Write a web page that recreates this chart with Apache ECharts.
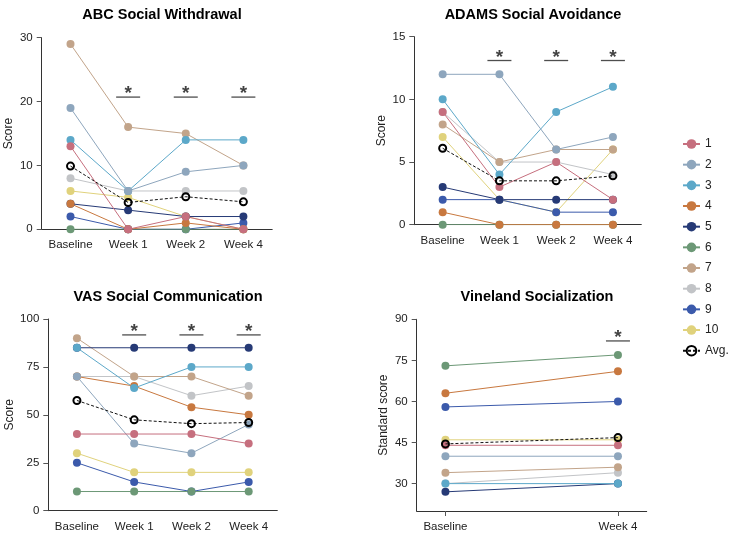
<!DOCTYPE html>
<html>
<head>
<meta charset="utf-8">
<script src="https://cdn.jsdelivr.net/npm/echarts@6/dist/echarts.min.js"></script>
<style>html,body{margin:0;padding:0;background:#fff}#c{width:729px;height:535px}</style>
</head>
<body>
<div id="c"></div>
<script>
// ---- data ----
const subjects = ['1','2','3','4','5','6','7','8','9','10'];
const timepoints = ['Baseline','Week 1','Week 2','Week 4'];
const vinelandTimepoints = ['Baseline','Week 4'];

const abc = [
  [13, 0, 2, 0],
  [19, 6, 9, 10],
  [14, 6, 14, 14],
  [4, 0, 1, 0],
  [4, 3, 2, 2],
  [0, 0, 0, 0],
  [29, 16, 15, 10],
  [8, 6, 6, 6],
  [2, 0, 0, 1],
  [6, 5, 2, 0]
];
const abcAvg = [9.9, 4.2, 5.1, 4.3];
const abcSig = [[1, 20.7], [2, 20.7], [3, 20.7]];

const adams = [
  [9, 3, 5, 2],
  [12, 12, 6, 7],
  [10, 4, 9, 11],
  [1, 0, 0, 0],
  [3, 2, 2, 2],
  [0, 0, 0, 0],
  [8, 5, 6, 6],
  [9, 5, 5, 4],
  [2, 2, 1, 1],
  [7, 2, 1, 6]
];
const adamsAvg = [6.1, 3.5, 3.5, 3.9];
const adamsSig = [[1, 13.1], [2, 13.1], [3, 13.1]];

const vas = [
  [40, 40, 40, 35],
  [70, 35, 30, 45],
  [85, 64, 75, 75],
  [70, 65, 54, 50],
  [85, 85, 85, 85],
  [10, 10, 10, 10],
  [90, 70, 70, 60],
  [70, 70, 60, 65],
  [25, 15, 10, 15],
  [30, 20, 20, 20]
];
const vasAvg = [57.5, 47.4, 45.4, 46.0];
const vasSig = [[1, 91.7], [2, 91.7], [3, 91.7]];

const vineland = [
  [44, 44],
  [40, 40],
  [30, 30],
  [63, 71],
  [27, 30],
  [73, 77],
  [34, 36],
  [30, 34],
  [58, 60],
  [46, 46]
];
const vinelandAvg = [44.5, 46.8];
const vinelandSig = [[1, 82.1]];

const colors = ['#c66f7e','#8ea6bd','#5ca8c9','#c8783f','#263a76','#6c9876','#c2a48a','#c2c4c7','#3b5aab','#e0d27c'];
const FONT = "'Liberation Sans', Arial, Helvetica, sans-serif";

// ---- chart ----
const chart = echarts.init(document.getElementById('c'));

const grids = [
  {left: 41.7, top: 37.7, width: 230.5, height: 191.6},
  {left: 414.3, top: 36.7, width: 227, height: 188},
  {left: 48.3, top: 319, width: 229, height: 191.7},
  {left: 416.7, top: 319.3, width: 230, height: 191.7}
];
const titles = [
  {text: 'ABC Social Withdrawal', x: 157, y: 2},
  {text: 'ADAMS Social Avoidance', x: 528, y: 2},
  {text: 'VAS Social Communication', x: 163, y: 284},
  {text: 'Vineland Socialization', x: 532, y: 284}
];

const axisLineStyle = {onZero: false, lineStyle: {color: '#333', width: 1}};
const tickStyle = {length: 5, lineStyle: {color: '#555', width: 1}};
const labelStyle = {color: '#222', fontSize: 11.5, fontFamily: FONT};
const nameStyle = {color: '#222', fontSize: 12, fontFamily: FONT};

function catX(i) {
  return {
    type: 'category', gridIndex: i, data: timepoints, boundaryGap: true,
    axisLine: axisLineStyle, axisTick: Object.assign({alignWithLabel: true, interval: 0}, tickStyle),
    axisLabel: Object.assign({margin: 10, interval: 0, hideOverlap: false}, labelStyle)
  };
}
function valY(i, min, max, interval, name, custom) {
  const y = {
    type: 'value', gridIndex: i, min: min, max: max, interval: interval,
    name: name, nameLocation: 'middle', nameGap: 27, nameTextStyle: nameStyle,
    axisLine: Object.assign({show: true}, axisLineStyle),
    axisTick: Object.assign({show: true}, tickStyle),
    axisLabel: Object.assign({margin: 9}, labelStyle),
    splitLine: {show: false}
  };
  if (custom) {
    y.axisLabel.customValues = custom;
    y.axisTick.customValues = custom;
    delete y.interval;
  }
  return y;
}

const xAxes = [catX(0), catX(1), catX(2), {
  type: 'value', gridIndex: 3, min: -1/6, max: 7/6,
  axisLine: axisLineStyle,
  axisTick: Object.assign({show: true, customValues: [0, 1]}, tickStyle),
  axisLabel: Object.assign({margin: 10, customValues: [0, 1], formatter: v => vinelandTimepoints[Math.round(v)]}, labelStyle),
  splitLine: {show: false}
}];
const yAxes = [
  valY(0, 0, 30, 10, 'Score'),
  valY(1, 0, 15, 5, 'Score'),
  valY(2, 0, 100, 25, 'Score'),
  valY(3, 20, 90, 15, 'Standard score', [30, 45, 60, 75, 90])
];
yAxes[2].nameGap = 33;
yAxes[3].nameGap = 27;

const series = [];
const panels = [
  {vals: abc, avg: abcAvg, sig: abcSig},
  {vals: adams, avg: adamsAvg, sig: adamsSig},
  {vals: vas, avg: vasAvg, sig: vasSig},
  {vals: vineland, avg: vinelandAvg, sig: vinelandSig, numeric: true}
];
panels.forEach((p, gi) => {
  const toData = arr => p.numeric ? arr.map((v, j) => [j, v]) : arr;
  for (let k = subjects.length - 1; k >= 0; k--) {
    series.push({
      type: 'line', name: subjects[k], xAxisIndex: gi, yAxisIndex: gi,
      data: toData(p.vals[k]), symbol: 'circle', symbolSize: 8,
      itemStyle: {color: colors[k]}, lineStyle: {color: colors[k], width: 1},
      emphasis: {disabled: true}, animation: false
    });
  }
  series.push({
    type: 'line', name: 'Avg.', xAxisIndex: gi, yAxisIndex: gi,
    data: toData(p.avg), symbol: 'circle', symbolSize: 7, z: 5,
    itemStyle: {color: 'rgba(0,0,0,0)', borderColor: '#000', borderWidth: 2},
    lineStyle: {color: '#111', width: 1, type: [3, 2]},
    emphasis: {disabled: true}, animation: false
  });
  series.push({
    type: 'scatter', name: 'sig', xAxisIndex: gi, yAxisIndex: gi,
    data: p.sig, symbol: 'rect', symbolSize: [24, 1.3], z: 6,
    itemStyle: {color: '#222'},
    label: {show: true, formatter: '*', position: 'top', distance: -7, color: '#111', fontSize: 19, fontWeight: 'bold', fontFamily: FONT},
    emphasis: {disabled: true}, animation: false, silent: true
  });
});

const option = {
  backgroundColor: '#fff',
  animation: false,
  title: titles.map(t => ({
    text: t.text, left: t.x, top: t.y, textAlign: 'center',
    textStyle: {fontFamily: FONT, fontSize: 14.5, fontWeight: 'bold', color: '#000'}
  })),
  grid: grids,
  xAxis: xAxes,
  yAxis: yAxes,
  legend: {
    orient: 'vertical', left: 677, top: 133,
    data: subjects.concat(['Avg.']),
    itemWidth: 17, itemHeight: 12, itemGap: 8.67,
    textStyle: {fontFamily: FONT, fontSize: 12, color: '#222'},
    selectedMode: false
  },
  series: series
};
chart.setOption(option);
</script>
</body>
</html>
